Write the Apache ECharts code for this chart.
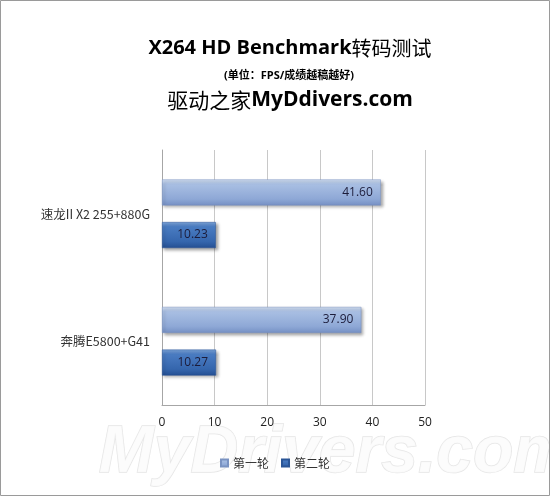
<!DOCTYPE html>
<html>
<head>
<meta charset="utf-8">
<script src="https://cdn.jsdelivr.net/npm/echarts@6/dist/echarts.min.js"></script>
<style>
html,body{margin:0;padding:0;background:#fff;}
#main{width:550px;height:496px;}
</style>
</head>
<body>
<div id="main"></div>
<script>
var categories = ['奔腾E5800+G41', '速龙II X2 255+880G'];
var seriesNames = ['第一轮', '第二轮'];
var round1 = [37.90, 41.60];
var round2 = [10.27, 10.23];
var xTicks = [0, 10, 20, 30, 40, 50];

var chart = echarts.init(document.getElementById('main'), null, {renderer: 'canvas'});
var latin = '"Open Sans", "Noto Sans CJK SC", sans-serif';
var cjk = '"Noto Sans CJK SC", sans-serif';

function grad(c0, c1, c2, c3) {
  return new echarts.graphic.LinearGradient(0, 0, 0, 1, [
    {offset: 0, color: c0}, {offset: 0.18, color: c1}, {offset: 0.75, color: c2}, {offset: 1, color: c3}
  ]);
}

var option = {
  backgroundColor: '#ffffff',
  animation: false,
  title: [
    {
      text: '{b|X264 HD Benchmark}{a|转码测试}',
      left: 285, top: 33, textAlign: 'center',
      textStyle: {
        rich: {
          b: {fontSize: 20, fontWeight: 'bold', color: '#000', fontFamily: latin},
          a: {fontSize: 20, fontWeight: 'normal', color: '#000', fontFamily: cjk}
        }
      }
    },
    {
      text: '(单位：FPS/成绩越稿越好)',
      left: 284, top: 65, textAlign: 'center',
      textStyle: {fontSize: 11, fontWeight: 'bold', color: '#000', fontFamily: latin}
    },
    {
      text: '{a|驱动之家}{b|MyDdivers.com}',
      left: 285, top: 85, textAlign: 'center',
      textStyle: {
        rich: {
          a: {fontSize: 21, fontWeight: 'normal', color: '#000', fontFamily: cjk},
          b: {fontSize: 21, fontWeight: 'bold', color: '#000', fontFamily: latin}
        }
      }
    }
  ],
  graphic: [
    {
      type: 'text', left: 98, top: 420, z: 0, silent: true,
      style: {
        text: 'MyDrivers.com',
        font: 'italic bold 66px "Liberation Sans", sans-serif',
        fill: 'rgba(252,252,252,0.9)',
        stroke: 'rgba(205,205,205,0.5)', lineWidth: 1.5
      }
    },
    {
      type: 'rect', z: 100, silent: true,
      shape: {x: 0.5, y: 0.5, width: 549, height: 495},
      style: {fill: 'none', stroke: '#9a9a9a', lineWidth: 1}
    }
  ],
  legend: {
    data: seriesNames,
    bottom: 22, left: 'center',
    icon: 'rect', itemWidth: 7, itemHeight: 7, itemGap: 12,
    textStyle: {fontSize: 12, color: '#333', fontFamily: cjk},
    z: 10
  },
  grid: {left: 162, right: 125, top: 150, bottom: 91, containLabel: false},
  xAxis: {
    type: 'value', min: 0, max: 50, interval: 10,
    axisLine: {show: true, lineStyle: {color: '#a6a6a6'}},
    axisTick: {show: false},
    axisLabel: {
      margin: 12, fontSize: 12, color: '#222', fontFamily: latin,
      formatter: function (v) { return xTicks.indexOf(v) >= 0 ? String(v) : ''; }
    },
    splitLine: {show: true, lineStyle: {color: '#c8c8c8'}}
  },
  yAxis: {
    type: 'category', data: categories,
    axisLine: {show: true, lineStyle: {color: '#a6a6a6'}},
    axisTick: {show: false},
    axisLabel: {margin: 12, fontSize: 12.5, color: '#333', fontFamily: cjk}
  },
  series: [
    {
      name: seriesNames[0], type: 'bar', data: round1,
      barWidth: 26, barGap: '64%', barCategoryGap: '45%',
      itemStyle: {
        color: grad('#d3e0f2', '#a9bfe3', '#8ea8d6', '#7590c4'),
        borderColor: '#7a93c2', borderWidth: 0.5,
        shadowColor: 'rgba(0,0,0,0.35)', shadowBlur: 3, shadowOffsetX: 2, shadowOffsetY: 2
      },
      label: {
        show: true, position: 'insideRight', distance: 8,
        fontSize: 12, color: '#1c1c3a', fontFamily: latin,
        formatter: function (p) { return p.value.toFixed(2); }
      }
    },
    {
      name: seriesNames[1], type: 'bar', data: round2,
      barWidth: 26, barGap: '64%', barCategoryGap: '45%',
      itemStyle: {
        color: grad('#7ea6dc', '#4a7cc2', '#3566ad', '#244f92'),
        borderColor: '#2a5596', borderWidth: 0.5,
        shadowColor: 'rgba(0,0,0,0.35)', shadowBlur: 3, shadowOffsetX: 2, shadowOffsetY: 2
      },
      label: {
        show: true, position: 'insideRight', distance: 8,
        fontSize: 12, color: '#1c1c3a', fontFamily: latin,
        formatter: function (p) { return p.value.toFixed(2); }
      }
    }
  ]
};
chart.setOption(option);
</script>
</body>
</html>
